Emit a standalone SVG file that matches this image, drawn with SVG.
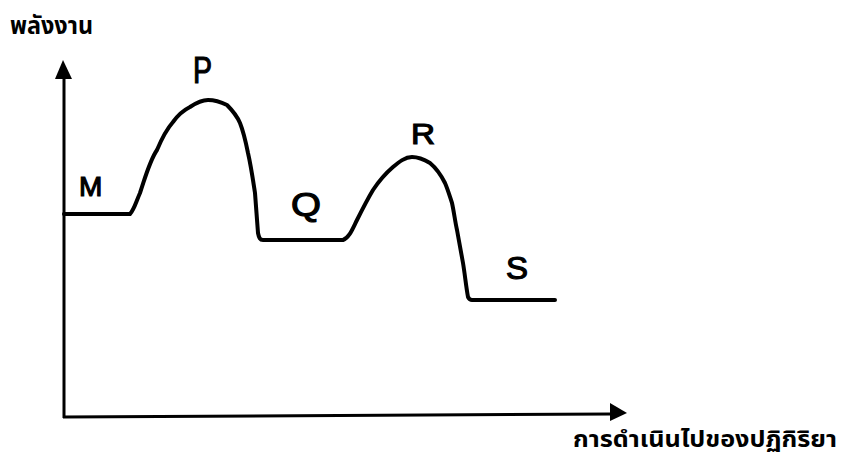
<svg xmlns="http://www.w3.org/2000/svg" width="841" height="461" viewBox="0 0 841 461">
<style>
.axis{stroke:#000;stroke-width:3;fill:none}
.curve{stroke:#000;stroke-width:4;fill:none;stroke-linejoin:round;stroke-linecap:round}
.lbl{font-family:"Liberation Sans",Arial,sans-serif;fill:#000;stroke:#000;stroke-width:1.2}
.th{font-family:"Noto Sans Thai","Noto Sans","DejaVu Sans",sans-serif;font-weight:bold;fill:#000}
</style>
<rect width="841" height="461" fill="#fff"/>
<g id="connectors">
<line class="axis" x1="64" y1="418" x2="64" y2="74"/>
<polygon points="63,60 55,79 72,79" fill="#000"/>
<line class="axis" x1="63" y1="417" x2="612" y2="414"/>
<polygon points="627,413 610,403 610,421" fill="#000"/>
<path class="curve" d="M64,214 L130,214 C134,210 136,202 140,193 C146,175 150,160 157,150 C162,138 166,130 173,122 C178,115 184,110 190,107 C196,103 202,100 208,100 C215,100 221,102 227,105 C233,111 237,116 240,123 C244,133 246,143 248,153 C251,166 253,180 255,193 C256,206 257,220 258,233 C259,238 260,240 263,240 L343,240 C349,238 352,230 357,220 C362,210 367,200 373,190 C379,181 386,173 393,167 C399,162 405,157 412,157 C419,157 425,160 430,163 C436,168 441,175 445,183 C448,190 450,197 452,203 C454,212 455,221 457,230 C459,241 461,252 463,263 C465,275 466,286 468,297 C469,299 470,300 472,300 L555,300"/>
</g>
<g id="title"><text class="th" x="10" y="34" font-size="24" textLength="83" lengthAdjust="spacingAndGlyphs">พลังงาน</text></g>
<g id="xlabel"><text class="th" x="573" y="447" font-size="23" textLength="264" lengthAdjust="spacingAndGlyphs">การดำเนินไปของปฏิกิริยา</text></g>
<g id="M"><text class="lbl" x="79" y="196" font-size="28">M</text></g>
<g id="P"><text class="lbl" x="193" y="83" font-size="36" textLength="19" lengthAdjust="spacingAndGlyphs">P</text></g>
<g id="Q"><text class="lbl" x="291" y="216" font-size="34" textLength="30" lengthAdjust="spacingAndGlyphs">Q</text></g>
<g id="R"><text class="lbl" x="411" y="144" font-size="30" textLength="24" lengthAdjust="spacingAndGlyphs">R</text></g>
<g id="S"><text class="lbl" x="506" y="279" font-size="32" textLength="22" lengthAdjust="spacingAndGlyphs">S</text></g>
</svg>
